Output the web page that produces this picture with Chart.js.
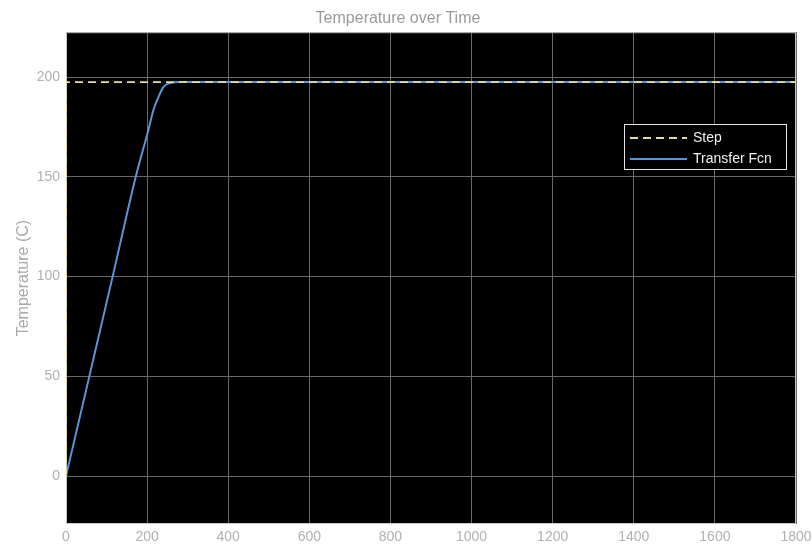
<!DOCTYPE html>
<html>
<head>
<meta charset="utf-8">
<script src="https://cdn.jsdelivr.net/npm/chart.js@4/dist/chart.umd.min.js"></script>
<style>
  html, body { margin: 0; padding: 0; background: #ffffff; }
  #wrap { position: relative; width: 812px; height: 548px; }
</style>
</head>
<body>
<div id="wrap"><canvas id="chartTemp" width="812" height="548"></canvas></div>
<script>
// valores
const stepTime = [0, 0, 1800];
const stepValue = [0, 197.5, 197.5];

const fcnTime = [0, 57.5, 115, 172, 203, 215.6, 228, 240, 257, 280, 1800];
const fcnValue = [0, 50, 100, 150, 173.4, 183.5, 190, 195, 197, 197.5, 197.5];

const xTicks = [0, 200, 400, 600, 800, 1000, 1200, 1400, 1600, 1800];
const yTicks = [0, 50, 100, 150, 200];

const legendItems = [
    { label: 'Step', color: '#e8dca0', dash: [8, 5] },
    { label: 'Transfer Fcn', color: '#5b95d6', dash: [] }
];

const FONTE = "'Liberation Sans', Arial, sans-serif";

function pares(xs, ys) {
    return xs.map((x, i) => ({ x: x, y: ys[i] }));
}

// fundo preto da área do gráfico + moldura + legenda
const plotPlugin = {
    id: 'plotArea',
    beforeDraw(chart) {
        const { ctx, chartArea: a } = chart;
        ctx.save();
        ctx.fillStyle = '#000000';
        ctx.fillRect(a.left, a.top, a.right - a.left, a.bottom - a.top);
        ctx.restore();
    },
    beforeDatasetsDraw(chart) {
        const { ctx, chartArea: a } = chart;
        ctx.save();
        ctx.strokeStyle = '#c8c8c8';
        ctx.lineWidth = 1;
        ctx.strokeRect(a.left + 0.5, a.top + 0.5, a.right - a.left - 1, a.bottom - a.top - 1);
        ctx.restore();
    },
    afterDraw(chart) {
        const { ctx } = chart;
        ctx.save();
        // legenda
        const bx = 624, by = 124, bw = 162, bh = 45;
        ctx.fillStyle = '#000000';
        ctx.fillRect(bx, by, bw, bh);
        ctx.strokeStyle = '#e6e6e6';
        ctx.lineWidth = 1;
        ctx.strokeRect(bx + 0.5, by + 0.5, bw, bh);
        ctx.font = '14px ' + FONTE;
        ctx.textBaseline = 'middle';
        legendItems.forEach((it, i) => {
            const y = by + 14 + i * 21;
            ctx.strokeStyle = it.color;
            ctx.lineWidth = 1.8;
            ctx.setLineDash(it.dash);
            ctx.beginPath();
            ctx.moveTo(bx + 6, y);
            ctx.lineTo(bx + 63, y);
            ctx.stroke();
            ctx.setLineDash([]);
            ctx.fillStyle = '#f0f0f0';
            ctx.fillText(it.label, bx + 69, y);
        });
        ctx.restore();
    }
};

const ctx = document.getElementById('chartTemp').getContext('2d');
new Chart(ctx, {
    type: 'line',
    data: {
        datasets: [{
            label: 'Step',
            data: pares(stepTime, stepValue),
            borderColor: '#e8dca0',
            borderWidth: 1.8,
            borderDash: [8, 5],
            pointRadius: 0,
            fill: false,
            tension: 0
        }, {
            label: 'Transfer Fcn',
            data: pares(fcnTime, fcnValue),
            borderColor: '#5b95d6',
            borderWidth: 2,
            pointRadius: 0,
            fill: false,
            cubicInterpolationMode: 'monotone'
        }]
    },
    options: {
        responsive: false,
        animation: false,
        layout: { padding: { top: 0, right: 16, left: 0, bottom: 0 } },
        plugins: {
            legend: { display: false },
            tooltip: { enabled: false },
            title: {
                display: true,
                text: 'Temperature over Time',
                color: '#9a9a9a',
                font: { family: FONTE, size: 16, weight: 'normal' },
                padding: { top: 9, bottom: 4 }
            }
        },
        scales: {
            x: {
                type: 'linear',
                min: 0,
                max: 1800,
                afterBuildTicks: s => { s.ticks = xTicks.map(v => ({ value: v })); },
                afterFit: s => { s.height = 24; s.paddingLeft = 0; s.paddingRight = 0; },
                grid: { color: '#6a6a6a', drawTicks: false },
                border: { display: false },
                ticks: {
                    color: '#b0b0b0',
                    padding: 5,
                    maxRotation: 0,
                    font: { family: FONTE, size: 14 },
                    callback: v => String(v)
                }
            },
            y: {
                type: 'linear',
                min: -24,
                max: 222.5,
                afterBuildTicks: s => { s.ticks = yTicks.map(v => ({ value: v })); },
                afterFit: s => { s.width = 66; s.paddingTop = 0; s.paddingBottom = 0; },
                grid: { color: '#6a6a6a', drawTicks: false },
                border: { display: false },
                title: {
                    display: true,
                    text: 'Temperature (C)',
                    color: '#a8a8a8',
                    font: { family: FONTE, size: 16 },
                    padding: { top: 14, bottom: 0 }
                },
                ticks: {
                    color: '#b0b0b0',
                    padding: 6,
                    font: { family: FONTE, size: 14 },
                    callback: v => String(v)
                }
            }
        }
    },
    plugins: [plotPlugin]
});
</script>
</body>
</html>
